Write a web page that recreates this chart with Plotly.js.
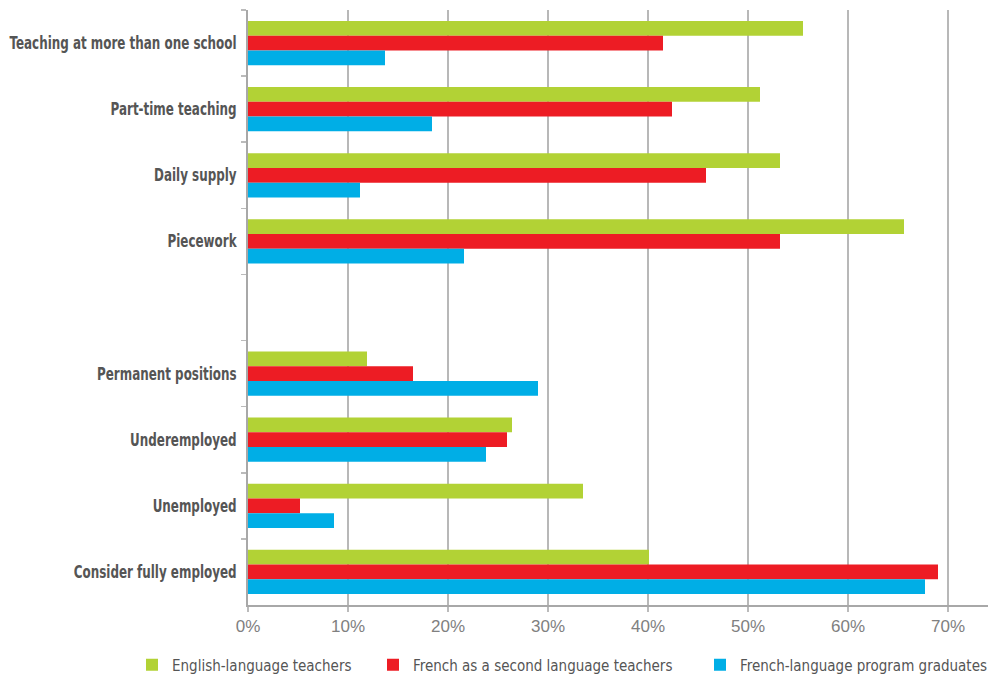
<!DOCTYPE html>
<html>
<head>
<meta charset="utf-8">
<script src="https://cdn.plot.ly/plotly-3.0.1.min.js"></script>
<style>html,body{margin:0;padding:0;background:#fff;}#chart{width:989px;height:681px;}</style>
</head>
<body>
<div id="chart"></div>
<script>
const categories = [
  "Teaching at more than one school",
  "Part-time teaching",
  "Daily supply",
  "Piecework",
  " ",
  "Permanent positions",
  "Underemployed",
  "Unemployed",
  "Consider fully employed"
];
const seriesNames = [
  "English-language teachers",
  "French as a second language teachers",
  "French-language program graduates"
];
const englishTeachers = [55.5, 51.2, 53.2, 65.6, null, 11.9, 26.4, 33.5, 40.1];
const fslTeachers     = [41.5, 42.4, 45.8, 53.2, null, 16.5, 25.9, 5.2, 69.0];
const frenchGrads     = [13.7, 18.4, 11.2, 21.6, null, 29.0, 23.8, 8.6, 67.7];
const tickValues = [0, 10, 20, 30, 40, 50, 60, 70];
const tickLabels = ["0%", "10%", "20%", "30%", "40%", "50%", "60%", "70%"];
const colors = ["#b2d235", "#ed1c24", "#00aee6"];

const condensed = "'DejaVu Sans Condensed', 'Liberation Sans', Arial, sans-serif";
const seriesData = [englishTeachers, fslTeachers, frenchGrads];
const legendIds = ["legend", "legend2", "legend3"];

const traces = seriesData.map((vals, i) => ({
  type: "bar",
  orientation: "h",
  name: seriesNames[i],
  x: vals,
  y: categories,
  marker: {color: colors[i], line: {width: 0}},
  legend: legendIds[i],
  hoverinfo: "x+y+name"
}));

const legendBase = {
  orientation: "h",
  xref: "container",
  yref: "container",
  yanchor: "middle",
  y: 1 - 665/681,
  font: {family: condensed, size: 15, color: "#555"},
  bgcolor: "rgba(0,0,0,0)",
  itemwidth: 30,
  tracegroupgap: 0
};

const layout = {
  width: 989,
  height: 681,
  margin: {l: 248, r: 1, t: 10, b: 76},
  paper_bgcolor: "#fff",
  plot_bgcolor: "#fff",
  barmode: "group",
  bargap: 0.33,
  bargroupgap: 0,
  showlegend: true,
  legend: Object.assign({}, legendBase, {x: 132/989}),
  legend2: Object.assign({}, legendBase, {x: 373/989}),
  legend3: Object.assign({}, legendBase, {x: 700/989}),
  xaxis: {
    range: [0, 74],
    tickvals: tickValues,
    ticktext: tickLabels,
    showgrid: true,
    gridcolor: "#b8b8b8",
    gridwidth: 2,
    zeroline: false,
    showline: true,
    linecolor: "#a8a8a8",
    linewidth: 2,
    ticks: "outside",
    ticklen: 5,
    tickcolor: "#bbb",
    tickwidth: 1.5,
    tickfont: {family: "'Liberation Sans', Arial, sans-serif", size: 17, color: "#808080"},
    fixedrange: true
  },
  yaxis: {
    type: "category",
    categoryorder: "array",
    categoryarray: categories,
    autorange: "reversed",
    showline: true,
    linecolor: "#a8a8a8",
    linewidth: 2,
    ticks: "outside",
    tickson: "boundaries",
    ticklen: 5,
    tickcolor: "#bbb",
    tickwidth: 1.5,
    showgrid: false,
    tickfont: {family: condensed, size: 17, color: "#555", weight: "bold"},
    ticklabelstandoff: 6,
    fixedrange: true
  }
};

function condenseEl(el, factor) {
  el.removeAttribute("textLength");
  el.removeAttribute("lengthAdjust");
  const w = el.getComputedTextLength();
  if (w > 0) {
    el.setAttribute("textLength", (w * factor).toFixed(1));
    el.setAttribute("lengthAdjust", "spacingAndGlyphs");
  }
}

Plotly.newPlot("chart", traces, layout, {displayModeBar: false, staticPlot: true}).then(() => {
  document.querySelectorAll("#chart .ytick text").forEach(el => condenseEl(el, 0.78));
});
</script>
</body>
</html>
